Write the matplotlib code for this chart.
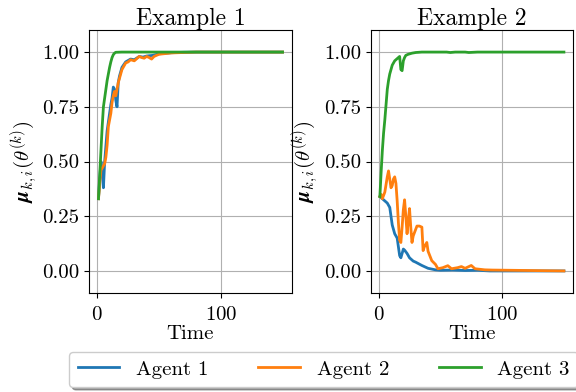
import matplotlib
matplotlib.use("Agg")
import matplotlib.pyplot as plt

plt.rcParams["font.family"] = "cmr10"
plt.rcParams["mathtext.fontset"] = "cm"
plt.rcParams["axes.formatter.use_mathtext"] = True

# Example 1
ex1_blue_t = [1, 2, 3, 4, 5, 6, 7, 8, 9, 10, 11, 12, 13, 14, 15, 16, 17, 18, 20, 23, 27, 30,
              34, 37, 40, 45, 50, 60, 70, 80, 150]
ex1_blue_v = [0.33, 0.42, 0.50, 0.45, 0.38, 0.50, 0.57, 0.64, 0.68, 0.72, 0.76, 0.79, 0.84, 0.83,
              0.78, 0.75, 0.86, 0.89, 0.93, 0.955, 0.968, 0.965, 0.98, 0.977, 0.982, 0.985, 0.992,
              0.997, 0.999, 1.0, 1.0]
ex1_orange_t = [1, 2, 3, 4, 5, 6, 7, 8, 9, 10, 11, 12, 13, 14, 15, 16, 17, 18, 20, 23, 25, 27,
                30, 32, 34, 36, 38, 40, 42, 44, 46, 48, 50, 55, 60, 70, 80, 150]
ex1_orange_v = [0.33, 0.40, 0.46, 0.47, 0.48, 0.49, 0.52, 0.575, 0.66, 0.69, 0.72, 0.77, 0.80,
                0.82, 0.80, 0.83, 0.86, 0.88, 0.92, 0.95, 0.955, 0.965, 0.96, 0.97, 0.98, 0.975,
                0.972, 0.98, 0.975, 0.968, 0.98, 0.985, 0.99, 0.993, 0.996, 0.998, 1.0, 1.0]
ex1_green_t = [1, 2, 3, 4, 5, 6, 7, 8, 9, 10, 11, 12, 13, 14, 15, 20, 150]
ex1_green_v = [0.33, 0.44, 0.55, 0.66, 0.75, 0.79, 0.83, 0.87, 0.90, 0.93, 0.955, 0.975, 0.988,
               0.995, 0.999, 1.0, 1.0]

# Example 2
ex2_blue_t = [1, 3, 5, 7, 9, 10, 11, 12, 13, 15, 17, 18, 20, 21, 23, 25, 28, 30, 35, 40, 46, 50,
              60, 70, 80, 90, 150]
ex2_blue_v = [0.34, 0.33, 0.32, 0.31, 0.29, 0.25, 0.21, 0.19, 0.17, 0.15, 0.07, 0.06, 0.10, 0.095,
              0.08, 0.06, 0.045, 0.04, 0.025, 0.012, 0.005, 0.003, 0.004, 0.002, 0.003, 0.0, 0.0]
ex2_orange_t = [1, 2, 3, 5, 7, 8, 9, 10, 11, 12, 13, 14, 15, 16, 17, 18, 19, 20, 21, 22, 23, 24,
                25, 26, 27, 28, 30, 31, 33, 35, 36, 37, 39, 40, 43, 46, 48, 52, 56, 59, 64, 67,
                70, 75, 78, 86, 92, 150]
ex2_orange_v = [0.34, 0.35, 0.33, 0.36, 0.43, 0.457, 0.42, 0.38, 0.39, 0.42, 0.43, 0.40, 0.32,
                0.22, 0.14, 0.13, 0.20, 0.28, 0.325, 0.25, 0.17, 0.23, 0.285, 0.20, 0.13, 0.16,
                0.19, 0.205, 0.205, 0.20, 0.093, 0.11, 0.13, 0.09, 0.047, 0.03, 0.01, 0.015,
                0.024, 0.01, 0.015, 0.02, 0.012, 0.025, 0.01, 0.005, 0.004, 0.0]
ex2_green_t = [1, 2, 3, 4, 5, 6, 7, 8, 9, 10, 11, 12, 13, 14, 15, 16, 17, 18, 19, 20, 21, 22, 24,
               27, 30, 35, 55, 58, 62, 70, 73, 80, 150]
ex2_green_v = [0.34, 0.45, 0.55, 0.63, 0.69, 0.76, 0.83, 0.87, 0.90, 0.92, 0.94, 0.95, 0.96,
               0.965, 0.97, 0.975, 0.98, 0.92, 0.915, 0.96, 0.975, 0.985, 0.99, 0.995, 0.998, 1.0,
               1.0, 0.998, 1.0, 1.0, 0.998, 1.0, 1.0]

titles = ["Example 1", "Example 2"]
agents = ["Agent 1", "Agent 2", "Agent 3"]
yticks = [0.0, 0.25, 0.5, 0.75, 1.0]

series = [
    [(ex1_blue_t, ex1_blue_v), (ex1_orange_t, ex1_orange_v), (ex1_green_t, ex1_green_v)],
    [(ex2_blue_t, ex2_blue_v), (ex2_orange_t, ex2_orange_v), (ex2_green_t, ex2_green_v)],
]

fig, axes = plt.subplots(1, 2, figsize=(5.76, 3.92), dpi=100)
fig.subplots_adjust(left=0.155, right=0.995, top=0.923, bottom=0.253, wspace=0.39)

for ax, title, lines in zip(axes, titles, series):
    for (t, v), name in zip(lines, agents):
        ax.plot(t, v, lw=2, label=name)
    ax.set_ylim(-0.1, 1.1)
    ax.set_yticks(yticks)
    ax.set_yticklabels([f"{y:.2f}" for y in yticks])
    ax.set_xticks([0, 100])
    ax.grid(True)
    ax.tick_params(labelsize=15)
    ax.tick_params(axis="x", pad=6)
    ax.set_title(title, fontsize=17, pad=3)
    ax.set_xlabel("Time", fontsize=15, labelpad=1)
    ax.set_ylabel(r"$\boldsymbol{\mu}_{k,i}(\theta^{(k)})$", fontsize=15, labelpad=2)

handles, labels = axes[0].get_legend_handles_labels()
fig.legend(handles, labels, loc="lower center", bbox_to_anchor=(0.562, -0.014), ncol=3,
           fontsize=15, shadow=True, fancybox=True, columnspacing=2.4)

fig.savefig("out.png", dpi=100)
